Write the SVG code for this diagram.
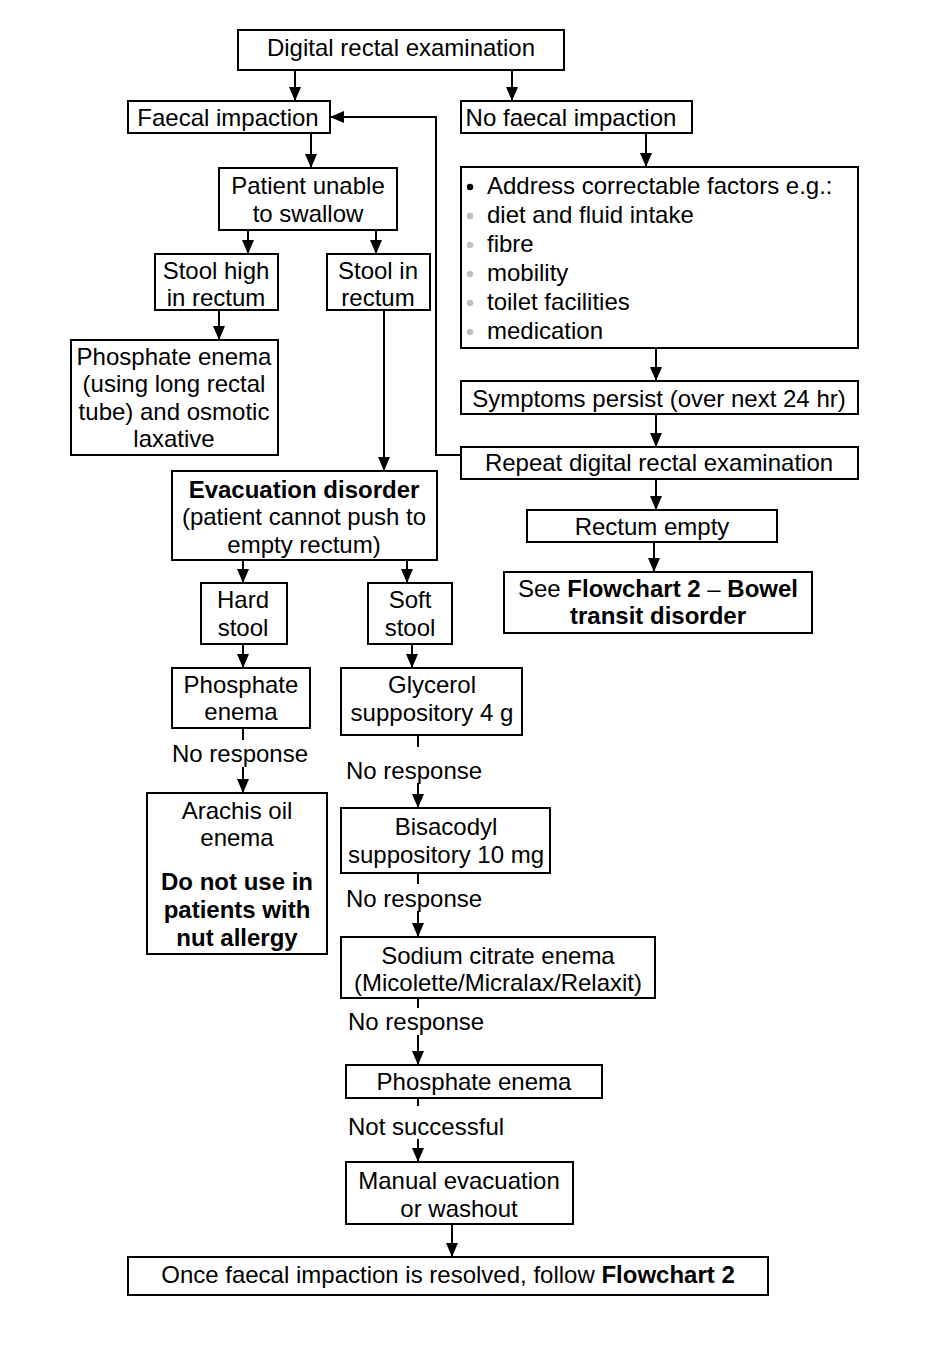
<svg xmlns="http://www.w3.org/2000/svg" width="952" height="1368" viewBox="0 0 952 1368">
<style>
rect.b{fill:#fff;stroke:#000;stroke-width:2}
text{font-family:"Liberation Sans",Arial,sans-serif;font-size:24px;fill:#000}
.c{text-anchor:middle}
.bd{font-weight:bold}
#connectors line,#connectors polyline{stroke:#000;stroke-width:2;fill:none}
</style>
<defs>
<marker id="ah" markerUnits="userSpaceOnUse" markerWidth="14" markerHeight="14" viewBox="0 0 14 14" refX="13" refY="7" orient="auto">
<path d="M0,1 L14,7 L0,13 z" fill="#000"/>
</marker>
</defs>
<rect width="952" height="1368" fill="#fff"/>
<g id="connectors">
<line x1="295" y1="70" x2="295" y2="100" marker-end="url(#ah)"/>
<line x1="512" y1="70" x2="512" y2="100" marker-end="url(#ah)"/>
<line x1="311" y1="133" x2="311" y2="167" marker-end="url(#ah)"/>
<line x1="248" y1="230" x2="248" y2="253" marker-end="url(#ah)"/>
<line x1="376" y1="230" x2="376" y2="253" marker-end="url(#ah)"/>
<line x1="219" y1="310" x2="219" y2="339" marker-end="url(#ah)"/>
<line x1="384" y1="310" x2="384" y2="470" marker-end="url(#ah)"/>
<line x1="646" y1="133" x2="646" y2="166" marker-end="url(#ah)"/>
<line x1="656" y1="348" x2="656" y2="380" marker-end="url(#ah)"/>
<line x1="656" y1="414" x2="656" y2="446" marker-end="url(#ah)"/>
<line x1="656" y1="479" x2="656" y2="509" marker-end="url(#ah)"/>
<line x1="654" y1="542" x2="654" y2="571" marker-end="url(#ah)"/>
<polyline points="461,455 436,455 436,117 331,117" marker-end="url(#ah)"/>
<line x1="243" y1="560" x2="243" y2="582" marker-end="url(#ah)"/>
<line x1="407" y1="560" x2="407" y2="582" marker-end="url(#ah)"/>
<line x1="243" y1="644" x2="243" y2="667" marker-end="url(#ah)"/>
<line x1="412" y1="644" x2="412" y2="667" marker-end="url(#ah)"/>
<line x1="243" y1="728" x2="243" y2="740"/>
<line x1="243" y1="767" x2="243" y2="792" marker-end="url(#ah)"/>
<line x1="418" y1="735" x2="418" y2="747"/>
<line x1="418" y1="783" x2="418" y2="807" marker-end="url(#ah)"/>
<line x1="418" y1="873" x2="418" y2="884"/>
<line x1="418" y1="911" x2="418" y2="936" marker-end="url(#ah)"/>
<line x1="418" y1="998" x2="418" y2="1008"/>
<line x1="418" y1="1035" x2="418" y2="1064" marker-end="url(#ah)"/>
<line x1="418" y1="1098" x2="418" y2="1106"/>
<line x1="418" y1="1139" x2="418" y2="1161" marker-end="url(#ah)"/>
<line x1="452" y1="1224" x2="452" y2="1256" marker-end="url(#ah)"/>
</g>
<g id="n-dre"><rect class="b" x="238" y="30" width="326" height="40"/><text class="c" x="401" y="56">Digital rectal examination</text></g>
<g id="n-fi"><rect class="b" x="128" y="101" width="202" height="32"/><text class="c" x="228" y="126">Faecal impaction</text></g>
<g id="n-nfi"><rect class="b" x="461" y="101" width="231" height="32"/><text class="c" x="571" y="126">No faecal impaction</text></g>
<g id="n-swallow"><rect class="b" x="219" y="168" width="178" height="62"/><text class="c" x="308" y="194">Patient unable</text><text class="c" x="308" y="222">to swallow</text></g>
<g id="n-high"><rect class="b" x="155" y="254" width="123" height="56"/><text class="c" x="216" y="279">Stool high</text><text class="c" x="216" y="306">in rectum</text></g>
<g id="n-inrectum"><rect class="b" x="327" y="254" width="103" height="56"/><text class="c" x="378" y="279">Stool in</text><text class="c" x="378" y="306">rectum</text></g>
<g id="n-phos-long"><rect class="b" x="71" y="340" width="207" height="115"/><text class="c" x="174" y="365">Phosphate enema</text><text class="c" x="174" y="392">(using long rectal</text><text class="c" x="174" y="420">tube) and osmotic</text><text class="c" x="174" y="447">laxative</text></g>
<g id="n-address"><rect class="b" x="461" y="167" width="397" height="181"/>
<circle cx="470" cy="187" r="3.2" fill="#000"/>
<circle cx="470" cy="216" r="3.2" fill="#c0c0c0"/>
<circle cx="470" cy="245" r="3.2" fill="#c0c0c0"/>
<circle cx="470" cy="274" r="3.2" fill="#c0c0c0"/>
<circle cx="470" cy="303" r="3.2" fill="#c0c0c0"/>
<circle cx="470" cy="332" r="3.2" fill="#c0c0c0"/>
<text x="487" y="194">Address correctable factors e.g.:</text>
<text x="487" y="223">diet and fluid intake</text>
<text x="487" y="252">fibre</text>
<text x="487" y="281">mobility</text>
<text x="487" y="310">toilet facilities</text>
<text x="487" y="339">medication</text>
</g>
<g id="n-persist"><rect class="b" x="461" y="381" width="397" height="33"/><text class="c" x="659" y="407">Symptoms persist (over next 24 hr)</text></g>
<g id="n-repeat"><rect class="b" x="461" y="447" width="397" height="32"/><text class="c" x="659" y="471">Repeat digital rectal examination</text></g>
<g id="n-empty"><rect class="b" x="527" y="510" width="250" height="32"/><text class="c" x="652" y="535">Rectum empty</text></g>
<g id="n-see"><rect class="b" x="504" y="572" width="308" height="61"/><text class="c" x="658" y="597">See <tspan class="bd">Flowchart 2</tspan> – <tspan class="bd">Bowel</tspan></text><text class="c bd" x="658" y="624">transit disorder</text></g>
<g id="n-evac"><rect class="b" x="172" y="471" width="265" height="89"/><text class="c bd" x="304" y="498">Evacuation disorder</text><text class="c" x="304" y="525">(patient cannot push to</text><text class="c" x="304" y="553">empty rectum)</text></g>
<g id="n-hard"><rect class="b" x="201" y="583" width="86" height="61"/><text class="c" x="243" y="608">Hard</text><text class="c" x="243" y="636">stool</text></g>
<g id="n-soft"><rect class="b" x="368" y="583" width="84" height="61"/><text class="c" x="410" y="608">Soft</text><text class="c" x="410" y="636">stool</text></g>
<g id="n-phos1"><rect class="b" x="172" y="668" width="138" height="60"/><text class="c" x="241" y="693">Phosphate</text><text class="c" x="241" y="720">enema</text></g>
<g id="n-glyc"><rect class="b" x="341" y="668" width="181" height="67"/><text class="c" x="432" y="693">Glycerol</text><text class="c" x="432" y="721">suppository 4 g</text></g>
<g id="l-nr1"><text class="c" x="240" y="762">No response</text></g>
<g id="n-arachis"><rect class="b" x="147" y="793" width="180" height="161"/><text class="c" x="237" y="819">Arachis oil</text><text class="c" x="237" y="846">enema</text><text class="c bd" x="237" y="890">Do not use in</text><text class="c bd" x="237" y="918">patients with</text><text class="c bd" x="237" y="946">nut allergy</text></g>
<g id="l-nr2"><text x="346" y="779">No response</text></g>
<g id="n-bisa"><rect class="b" x="341" y="808" width="209" height="65"/><text class="c" x="446" y="835">Bisacodyl</text><text class="c" x="446" y="863">suppository 10 mg</text></g>
<g id="l-nr3"><text x="346" y="907">No response</text></g>
<g id="n-sodium"><rect class="b" x="341" y="937" width="314" height="61"/><text class="c" x="498" y="964">Sodium citrate enema</text><text class="c" x="498" y="991">(Micolette/Micralax/Relaxit)</text></g>
<g id="l-nr4"><text x="348" y="1030">No response</text></g>
<g id="n-phos2"><rect class="b" x="346" y="1065" width="256" height="33"/><text class="c" x="474" y="1090">Phosphate enema</text></g>
<g id="l-ns"><text x="348" y="1135">Not successful</text></g>
<g id="n-manual"><rect class="b" x="346" y="1162" width="227" height="62"/><text class="c" x="459" y="1189">Manual evacuation</text><text class="c" x="459" y="1217">or washout</text></g>
<g id="n-final"><rect class="b" x="128" y="1257" width="640" height="38"/><text class="c" x="448" y="1283">Once faecal impaction is resolved, follow <tspan class="bd">Flowchart 2</tspan></text></g>
</svg>
